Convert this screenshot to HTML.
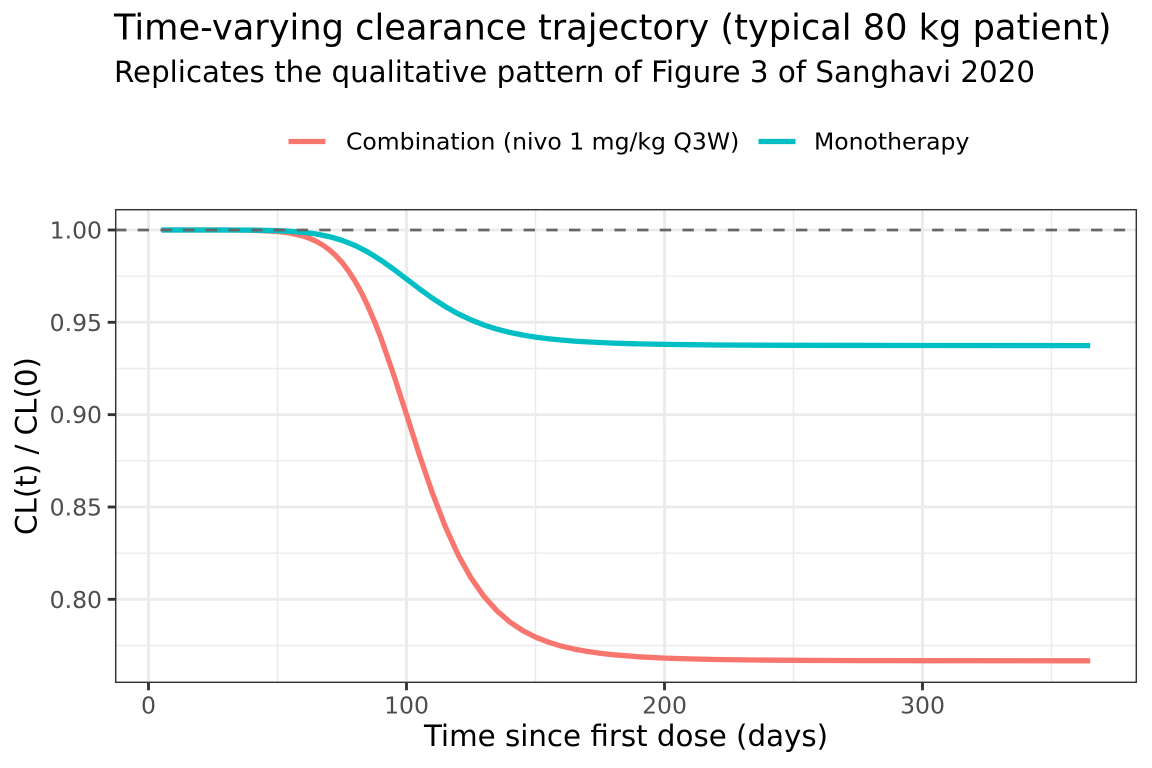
<!DOCTYPE html>
<html>
<head>
<meta charset="utf-8">
<style>
  html, body { margin: 0; padding: 0; background: #ffffff; }
  svg { display: block; }
  text { font-family: "DejaVu Sans", "Liberation Sans", sans-serif; }
</style>
</head>
<body>
<svg width="1152" height="768" viewBox="0 0 1152 768" xmlns="http://www.w3.org/2000/svg">
  <rect x="0" y="0" width="1152" height="768" fill="#ffffff"/>

  <!-- Title & subtitle -->
  <text x="114" y="39.5" font-size="35.2" fill="#000000">Time-varying clearance trajectory (typical 80 kg patient)</text>
  <text x="114" y="82" font-size="29.3" fill="#000000">Replicates the qualitative pattern of Figure 3 of Sanghavi 2020</text>

  <!-- Legend -->
  <line x1="288.5" y1="141.5" x2="325.4" y2="141.5" stroke="#F8766D" stroke-width="5.3"/>
  <text x="346" y="149.5" font-size="23.5" fill="#000000">Combination (nivo 1 mg/kg Q3W)</text>
  <line x1="758.5" y1="141.5" x2="795.5" y2="141.5" stroke="#00BFC4" stroke-width="5.3"/>
  <text x="814" y="149.5" font-size="23.5" fill="#000000">Monotherapy</text>

  <!-- Panel background -->
  <rect x="115" y="209" width="1022" height="474" fill="#ffffff"/>

  <!-- Minor grid -->
  <g stroke="#EBEBEB" stroke-width="1.45">
    <line x1="115" y1="276.2" x2="1137" y2="276.2"/>
    <line x1="115" y1="368.5" x2="1137" y2="368.5"/>
    <line x1="115" y1="460.8" x2="1137" y2="460.8"/>
    <line x1="115" y1="553.2" x2="1137" y2="553.2"/>
    <line x1="115" y1="645.5" x2="1137" y2="645.5"/>
    <line x1="277.5" y1="209" x2="277.5" y2="683"/>
    <line x1="535.5" y1="209" x2="535.5" y2="683"/>
    <line x1="793.5" y1="209" x2="793.5" y2="683"/>
    <line x1="1051.5" y1="209" x2="1051.5" y2="683"/>
  </g>
  <!-- Major grid -->
  <g stroke="#EBEBEB" stroke-width="2.85">
    <line x1="115" y1="230" x2="1137" y2="230"/>
    <line x1="115" y1="322.3" x2="1137" y2="322.3"/>
    <line x1="115" y1="414.65" x2="1137" y2="414.65"/>
    <line x1="115" y1="507" x2="1137" y2="507"/>
    <line x1="115" y1="599.3" x2="1137" y2="599.3"/>
    <line x1="148.5" y1="209" x2="148.5" y2="683"/>
    <line x1="406.5" y1="209" x2="406.5" y2="683"/>
    <line x1="664.5" y1="209" x2="664.5" y2="683"/>
    <line x1="922.5" y1="209" x2="922.5" y2="683"/>
  </g>

  <!-- Combination curve -->
  <polyline fill="none" stroke="#F8766D" stroke-width="5.3" stroke-linejoin="round" stroke-linecap="butt"
    points="161.4,230 200.1,230 225.9,230.03 251.7,230.27 277.5,231.53 290.4,233.17 303.3,236.16 309.75,238.4 316.2,241.3 322.65,245.0 329.1,249.6 335.55,255.4 342.0,262.4 348.45,270.9 354.9,280.9 361.35,292.5 367.8,305.9 374.25,320.9 380.7,337.4 393.6,374.5 406.5,414.6 419.4,455.0 432.3,492.8 445.2,526.4 458.1,554.8 471.0,577.9 483.9,596.3 496.8,610.7 509.7,621.9 522.6,630.5 535.5,637.1 548.4,642.1 561.3,646.1 574.2,649.1 587.1,651.4 600.0,653.3 612.9,654.7 638.7,656.8 664.5,658.1 690.3,658.9 716.1,659.5 754.8,660.0 793.5,660.3 858.0,660.6 922.5,660.7 1090.2,660.8"/>

  <!-- Monotherapy curve -->
  <polyline fill="none" stroke="#00BFC4" stroke-width="5.3" stroke-linejoin="round" stroke-linecap="butt"
    points="161.4,230 200.1,230 225.9,230 251.7,230.14 277.5,230.7 290.4,231.3 303.3,232.3 316.2,234.0 329.1,236.6 342.0,240.3 354.9,245.4 367.8,252.0 380.7,260.1 393.6,269.2 406.5,279.0 419.4,288.8 432.3,298.1 445.2,306.5 458.1,313.8 471.0,319.9 483.9,325.0 496.8,329.1 509.7,332.4 522.6,335.0 535.5,337.1 548.4,338.7 561.3,340.0 574.2,341.1 587.1,341.9 600.0,342.5 612.9,343.1 638.7,343.9 664.5,344.4 690.3,344.7 716.1,345.0 793.5,345.3 922.5,345.5 1090.2,345.6"/>

  <!-- Reference dashed line -->
  <line x1="115" y1="230" x2="1137" y2="230" stroke="#666666" stroke-width="2.85" stroke-dasharray="11.35 11.35"/>

  <!-- Panel border -->
  <rect x="115.7" y="209.7" width="1020.6" height="472.6" fill="none" stroke="#333333" stroke-width="1.45"/>

  <!-- Ticks -->
  <g stroke="#333333" stroke-width="2.85">
    <line x1="107.7" y1="230" x2="115" y2="230"/>
    <line x1="107.7" y1="322.3" x2="115" y2="322.3"/>
    <line x1="107.7" y1="414.65" x2="115" y2="414.65"/>
    <line x1="107.7" y1="507" x2="115" y2="507"/>
    <line x1="107.7" y1="599.3" x2="115" y2="599.3"/>
    <line x1="148.5" y1="683" x2="148.5" y2="690.3"/>
    <line x1="406.5" y1="683" x2="406.5" y2="690.3"/>
    <line x1="664.5" y1="683" x2="664.5" y2="690.3"/>
    <line x1="922.5" y1="683" x2="922.5" y2="690.3"/>
  </g>

  <!-- Y tick labels -->
  <g font-size="23.5" fill="#4D4D4D" text-anchor="end">
    <text x="102" y="238.5">1.00</text>
    <text x="102" y="330.8">0.95</text>
    <text x="102" y="423.2">0.90</text>
    <text x="102" y="515.5">0.85</text>
    <text x="102" y="607.8">0.80</text>
  </g>
  <!-- X tick labels -->
  <g font-size="23.5" fill="#4D4D4D" text-anchor="middle">
    <text x="148.5" y="713.7">0</text>
    <text x="406.5" y="713.7">100</text>
    <text x="664.5" y="713.7">200</text>
    <text x="922.5" y="713.7">300</text>
  </g>

  <!-- Axis titles -->
  <text x="626" y="746" font-size="29.3" fill="#000000" text-anchor="middle">Time since first dose (days)</text>
  <text transform="translate(36.5,446) rotate(-90)" font-size="29.3" fill="#000000" text-anchor="middle">CL(t) / CL(0)</text>
</svg>
</body>
</html>
